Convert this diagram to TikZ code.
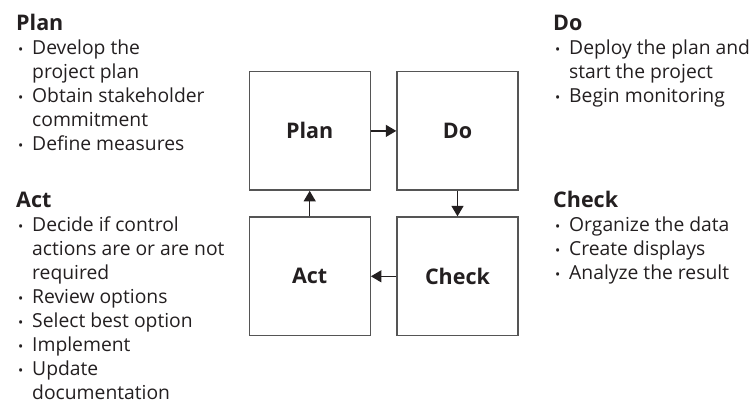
\documentclass[tikz,border=0pt]{standalone}
\usepackage{fontspec}
\setmainfont{Open Sans}
\usetikzlibrary{arrows.meta}
\definecolor{ink}{HTML}{231F20}
\definecolor{boxline}{HTML}{555555}
\newcommand{\itm}[1]{\makebox[16pt][l]{\hspace{2pt}\raisebox{0.5pt}{\scalebox{0.72}{\textbullet}}}#1}
\newcommand{\cnt}[1]{\hspace{16pt}#1}
\newcommand{\hd}[1]{{\fontsize{21.5}{24}\selectfont\bfseries #1}}
\tikzset{
  x=1pt, y=-1pt,
  stage/.style={draw=boxline, line width=1.4pt, minimum width=121pt, minimum height=118.5pt,
    inner sep=0pt, font=\fontsize{21.5}{24}\selectfont\bfseries, text=ink},
  notes/.style={anchor=base west, inner sep=0pt, text=ink,
    font=\fontsize{19.3}{24}\selectfont},
  flow/.style={draw=ink, line width=1.3pt, -{Triangle[length=10.5pt,width=12pt]}}
}
\begin{document}
\begin{tikzpicture}
\useasboundingbox (0,0) rectangle (755,408);
\node[stage] (plan) at (309.7,130.9) {Plan};
\node[stage] (do) at (457.5,130.9) {Do};
\node[stage] (act) at (309.7,276.3) {Act};
\node[stage] (check) at (457.5,276.3) {Check};
\draw[flow] (plan.east) -- (do.west);
\draw[flow] (do.south) -- (check.north);
\draw[flow] (check.west) -- (act.east);
\draw[flow] (act.north) -- (plan.south);
\node[notes] (plannotes) at (16,30.5) {\begin{tabular}[t]{@{}l@{}}
\hd{Plan}\\
\itm{Develop the}\\
\cnt{project plan}\\
\itm{Obtain stakeholder}\\
\cnt{commitment}\\
\itm{Define measures}
\end{tabular}};
\node[notes] (actnotes) at (16,207.5) {\begin{tabular}[t]{@{}l@{}}
\hd{Act}\\
\itm{Decide if control}\\
\cnt{actions are or are not}\\
\cnt{required}\\
\itm{Review options}\\
\itm{Select best option}\\
\itm{Implement}\\
\itm{Update}\\
\cnt{documentation}
\end{tabular}};
\node[notes] (donotes) at (553,30.5) {\begin{tabular}[t]{@{}l@{}}
\hd{Do}\\
\itm{Deploy the plan and}\\
\cnt{start the project}\\
\itm{Begin monitoring}
\end{tabular}};
\node[notes] (checknotes) at (553,207.5) {\begin{tabular}[t]{@{}l@{}}
\hd{Check}\\
\itm{Organize the data}\\
\itm{Create displays}\\
\itm{Analyze the result}
\end{tabular}};
\end{tikzpicture}
\end{document}
